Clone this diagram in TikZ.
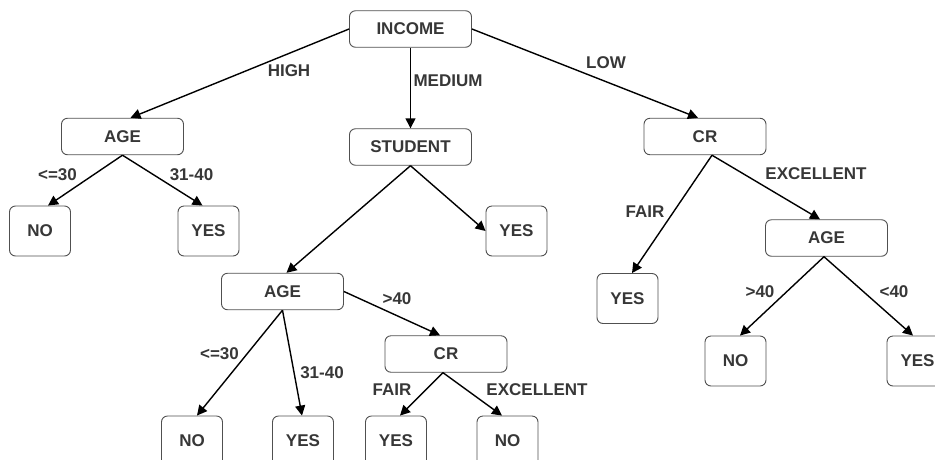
\documentclass[tikz,border=0pt]{standalone}
\usepackage{fontspec}
\setmainfont{Liberation Sans}
\usetikzlibrary{arrows.meta}
\definecolor{txt}{RGB}{55,55,55}
\definecolor{bord}{RGB}{80,80,80}
\tikzset{
  box/.style={draw=bord, line width=0.9pt, rounded corners=6pt, fill=white,
    inner sep=0pt, text=txt, font=\fontsize{17}{20}\selectfont\bfseries},
  wide/.style={box, minimum width=122pt, minimum height=36.5pt},
  leaf/.style={box, minimum width=61pt, minimum height=50pt},
  edge/.style={line width=1.4pt, black, -{Triangle[length=10pt,width=10pt]}},
  lbl/.style={text=txt, inner sep=0pt, font=\fontsize{17}{20}\selectfont\bfseries}
}
\begin{document}
\begin{tikzpicture}[x=1pt,y=-1pt]
\useasboundingbox (0,0) rectangle (935,459);
% nodes
\node[wide] (income) at (410.5,29) {INCOME};
\node[wide] (ageL) at (122.5,136.5) {AGE};
\node[wide] (student) at (410.5,147) {STUDENT};
\node[wide] (crR) at (705,136.5) {CR};
\node[leaf] (noL) at (40,231) {NO};
\node[leaf] (yesL) at (208.5,231) {YES};
\node[leaf] (yesM) at (516.5,231) {YES};
\node[wide] (ageR) at (826.5,238) {AGE};
\node[leaf] (yesF) at (627.5,298.5) {YES};
\node[leaf] (noR) at (735.5,361) {NO};
\node[leaf] (yesR) at (917.5,361) {YES};
\node[wide] (ageM) at (282.5,291.5) {AGE};
\node[wide] (crM) at (446,354) {CR};
\node[leaf] (noB1) at (192,441) {NO};
\node[leaf] (yesB1) at (303,441) {YES};
\node[leaf] (yesB2) at (396,441) {YES};
\node[leaf] (noB2) at (507.5,441) {NO};
% edges
\draw[edge] (income.west) -- ([xshift=8pt]ageL.north);
\draw[edge] (income.south) -- (student.north);
\draw[edge] (income.east) -- ([xshift=-7pt]crR.north);
\draw[edge] (ageL.south) -- ([xshift=8pt]noL.north);
\draw[edge] (ageL.south) -- ([xshift=-6pt]yesL.north);
\draw[edge] (student.south) -- ([xshift=4pt]ageM.north);
\draw[edge] (student.south) -- (yesM.west);
\draw[edge] ([xshift=7pt]crR.south) -- ([xshift=4.5pt]yesF.north);
\draw[edge] ([xshift=7pt]crR.south) -- ([xshift=-6.5pt]ageR.north);
\draw[edge] ([xshift=-2.5pt]ageR.south) -- ([xshift=4.5pt]noR.north);
\draw[edge] ([xshift=-2.5pt]ageR.south) -- ([xshift=-4.5pt]yesR.north);
\draw[edge] (ageM.south) -- ([xshift=5pt]noB1.north);
\draw[edge] (ageM.south) -- ([xshift=-1pt]yesB1.north);
\draw[edge] (ageM.east) -- ([xshift=-6pt]crM.north);
\draw[edge] ([xshift=-3pt]crM.south) -- ([xshift=4pt]yesB2.north);
\draw[edge] ([xshift=-3pt]crM.south) -- ([xshift=-5.5pt]noB2.north);
% labels
\node[lbl] (lHigh) at (289,71) {HIGH};
\node[lbl] (lMed) at (448,81) {MEDIUM};
\node[lbl] (lLow) at (606,63) {LOW};
\node[lbl] (l1) at (57.5,175) {<=30};
\node[lbl] (l2) at (191.5,175) {31-40};
\node[lbl] (l3) at (645,212) {FAIR};
\node[lbl] (l4) at (816,174) {EXCELLENT};
\node[lbl] (l5) at (760,292) {>40};
\node[lbl] (l6) at (894,292) {<40};
\node[lbl] (l7) at (219.5,354) {<=30};
\node[lbl] (l8) at (322,373) {31-40};
\node[lbl] (l9) at (397,299) {>40};
\node[lbl] (l10) at (392,390) {FAIR};
\node[lbl] (l11) at (537,390) {EXCELLENT};
\end{tikzpicture}
\end{document}
